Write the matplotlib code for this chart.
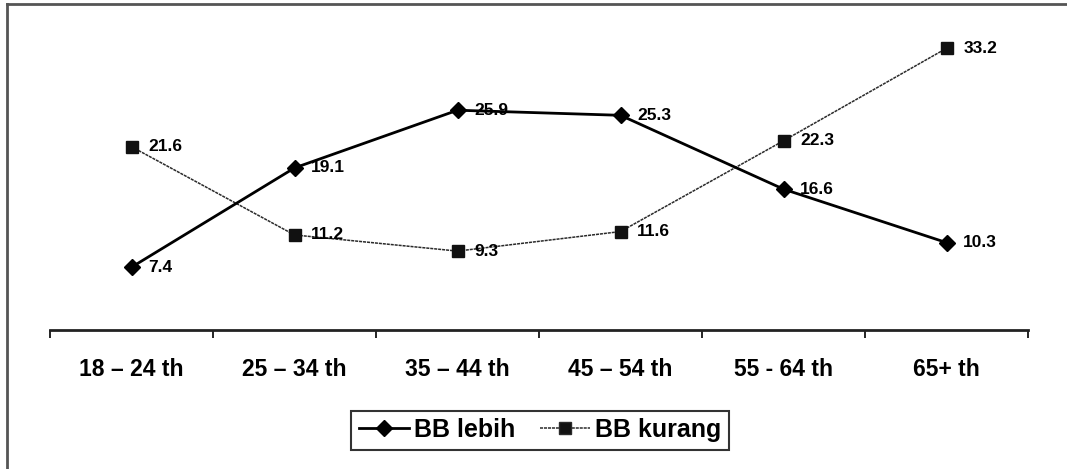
import matplotlib
matplotlib.use("Agg")
import matplotlib.pyplot as plt
from matplotlib.lines import Line2D

categories = ["18 – 24 th", "25 – 34 th", "35 – 44 th", "45 – 54 th", "55 - 64 th", "65+ th"]
bb_lebih = [7.4, 19.1, 25.9, 25.3, 16.6, 10.3]
bb_kurang = [21.6, 11.2, 9.3, 11.6, 22.3, 33.2]

plt.rcParams["font.family"] = ["Liberation Sans", "DejaVu Sans"]

W, H = 1067, 469
fig = plt.figure(figsize=(W / 100, H / 100), dpi=100)
ax = fig.add_axes([50 / W, (H - 330) / H, (1028 - 50) / W, (330 - 33) / H])

x = [i + 0.5 for i in range(len(categories))]

ax.plot(x, bb_kurang, color="#2a2a2a", lw=1.1, ls=(0, (2, 0.6)),
        marker="s", ms=8.5, mfc="#111111", mec="#111111", label="BB kurang", zorder=2)
ax.plot(x, bb_lebih, color="black", lw=2.0, marker="D", ms=8,
        mfc="black", mec="black", label="BB lebih", zorder=3)

for xi, v in zip(x, bb_lebih):
    ax.annotate(f"{v:.1f}", (xi, v), xytext=(12, 0), textcoords="offset points",
                va="center", ha="left", fontsize=12.5, fontweight="bold")
for xi, v in zip(x, bb_kurang):
    ax.annotate(f"{v:.1f}", (xi, v), xytext=(12, 0), textcoords="offset points",
                va="center", ha="left", fontsize=12.5, fontweight="bold")

ax.set_xlim(0, len(categories))
ax.set_ylim(0, 35)
ax.set_xticks(range(len(categories) + 1))
ax.set_xticklabels([])
ax.set_xticks(x, minor=True)
ax.set_xticklabels(categories, minor=True, fontsize=16.5, fontweight="bold")
ax.tick_params(axis="x", which="major", length=6, width=1.2, direction="out", color="black")
ax.tick_params(axis="x", which="minor", length=0, pad=20)
ax.set_yticks([])
for side in ("top", "right", "left"):
    ax.spines[side].set_visible(False)
ax.spines["bottom"].set_linewidth(2)
ax.spines["bottom"].set_color("#222222")

handles = [
    Line2D([], [], color="black", lw=2.0, marker="D", ms=8, mfc="black"),
    Line2D([], [], color="#2a2a2a", lw=1.1, ls=(0, (2, 0.6)), marker="s", ms=8.5, mfc="#111111"),
]
leg = fig.legend(handles, ["BB lebih", "BB kurang"], loc="center",
                 bbox_to_anchor=(540 / W, (H - 430) / H), ncol=2,
                 prop={"weight": "bold", "size": 18}, frameon=True, fancybox=False,
                 edgecolor="black", handlelength=2.0, handletextpad=0.2,
                 columnspacing=1.0, borderpad=0.3, borderaxespad=0)
leg.get_frame().set_linewidth(1.5)

# outer frame: top and left edges
fig.add_artist(Line2D([7 / W, 1.0], [1 - 4 / H, 1 - 4 / H], transform=fig.transFigure,
                      color="#555555", lw=2))
fig.add_artist(Line2D([7 / W, 7 / W], [0, 1 - 4 / H], transform=fig.transFigure,
                      color="#555555", lw=2))

fig.savefig("out.png", dpi=100)
